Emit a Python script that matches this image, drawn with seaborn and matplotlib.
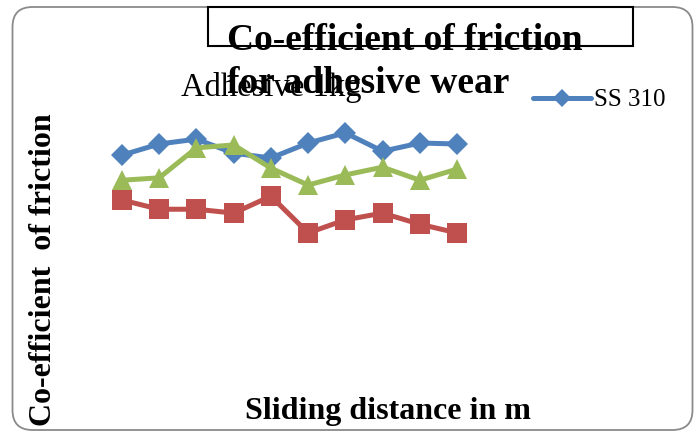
import matplotlib
matplotlib.use("Agg")
import matplotlib.pyplot as plt
from matplotlib.patches import FancyBboxPatch, Rectangle
from matplotlib.lines import Line2D
import seaborn as sns
import pandas as pd

# Sliding distance steps (equally spaced) and friction coefficients per series
sliding_distance = [1, 2, 3, 4, 5, 6, 7, 8, 9, 10]
cof_ss310 = [0.486, 0.509, 0.519, 0.490, 0.480, 0.511, 0.532, 0.494, 0.511, 0.509]
cof_series2 = [0.393, 0.374, 0.374, 0.366, 0.401, 0.325, 0.352, 0.366, 0.343, 0.325]
cof_series3 = [0.434, 0.439, 0.501, 0.507, 0.459, 0.424, 0.445, 0.461, 0.434, 0.457]

series_names = ["SS 310", "Series 2", "Series 3"]
colors = ["#4F81BD", "#C0504D", "#9BBB59"]
markers = ["D", "s", "^"]
marker_sizes = [11.5, 14, 15]

title_line1 = "Co-efficient of friction"
title_line2 = "for adhesive wear"
subtitle = "Adhesive 1kg"
x_label = "Sliding distance in m"
y_label = "Co-efficient  of friction"

sns.set_theme(style="white")
plt.rcParams["font.family"] = ["Liberation Serif", "DejaVu Serif"]
plt.rcParams["text.color"] = "black"

W, H = 699, 432
fig = plt.figure(figsize=(W / 100, H / 100), dpi=100)
fig.patch.set_facecolor("white")

def fx(px):
    return px / W

def fy(py):
    return 1 - py / H

# Rounded outer frame (drawn in inches so the corners stay circular)
frame = FancyBboxPatch((0.125, 0.02), 6.80, 4.23,
                       boxstyle="round,pad=0,rounding_size=0.2",
                       transform=fig.dpi_scale_trans, facecolor="white",
                       edgecolor="#8a8a8a", linewidth=1.3, zorder=-2)
fig.patches.append(frame)

# Plot area
ax = fig.add_axes([fx(103.4), fy(390), fx(475.6) - fx(103.4), (390 - 100) / H])
ax.set_facecolor("none")
ax.set_zorder(2)

df = pd.DataFrame({
    "distance": sliding_distance * 3,
    "cof": cof_ss310 + cof_series2 + cof_series3,
    "series": [series_names[0]] * 10 + [series_names[1]] * 10 + [series_names[2]] * 10,
})

for name, c, m, ms in zip(series_names, colors, markers, marker_sizes):
    sns.lineplot(data=df[df["series"] == name], x="distance", y="cof", ax=ax,
                 color=c, marker=m, markersize=ms, markeredgewidth=0,
                 linewidth=3.6, legend=False)

ax.set_xlim(0.5, 10.5)
ax.set_ylim(0, 0.6)
ax.set_axis_off()

# Title box and texts
title_box = Rectangle((2.08, 3.865), 4.245, 0.382, transform=fig.dpi_scale_trans,
                      facecolor="white", edgecolor="black", linewidth=1.5, zorder=-1)
fig.patches.append(title_box)

fig.text(fx(181), fy(96), subtitle, fontsize=23.5, ha="left", va="baseline", zorder=3)
fig.text(fx(405), fy(50), title_line1, fontsize=27, fontweight="bold",
         ha="center", va="baseline", zorder=4)
fig.text(fx(368), fy(93), title_line2, fontsize=27, fontweight="bold",
         ha="center", va="baseline", zorder=4)

fig.text(fx(388), fy(419), x_label, fontsize=23, fontweight="bold",
         ha="center", va="baseline")
fig.text(fx(44), fy(270), y_label, fontsize=23, fontweight="bold",
         ha="center", va="center", rotation=90)

# Legend showing only the first series
handle = Line2D([], [], color=colors[0], marker=markers[0], markersize=9.5,
                markeredgewidth=0, linewidth=3.6)
fig.legend([handle], [series_names[0]], loc="center left",
           bbox_to_anchor=(fx(533), fy(100)), frameon=False, fontsize=18,
           handlelength=2.3, handletextpad=0.15, borderpad=0, borderaxespad=0)

fig.savefig("out.png", dpi=100, facecolor="white")
